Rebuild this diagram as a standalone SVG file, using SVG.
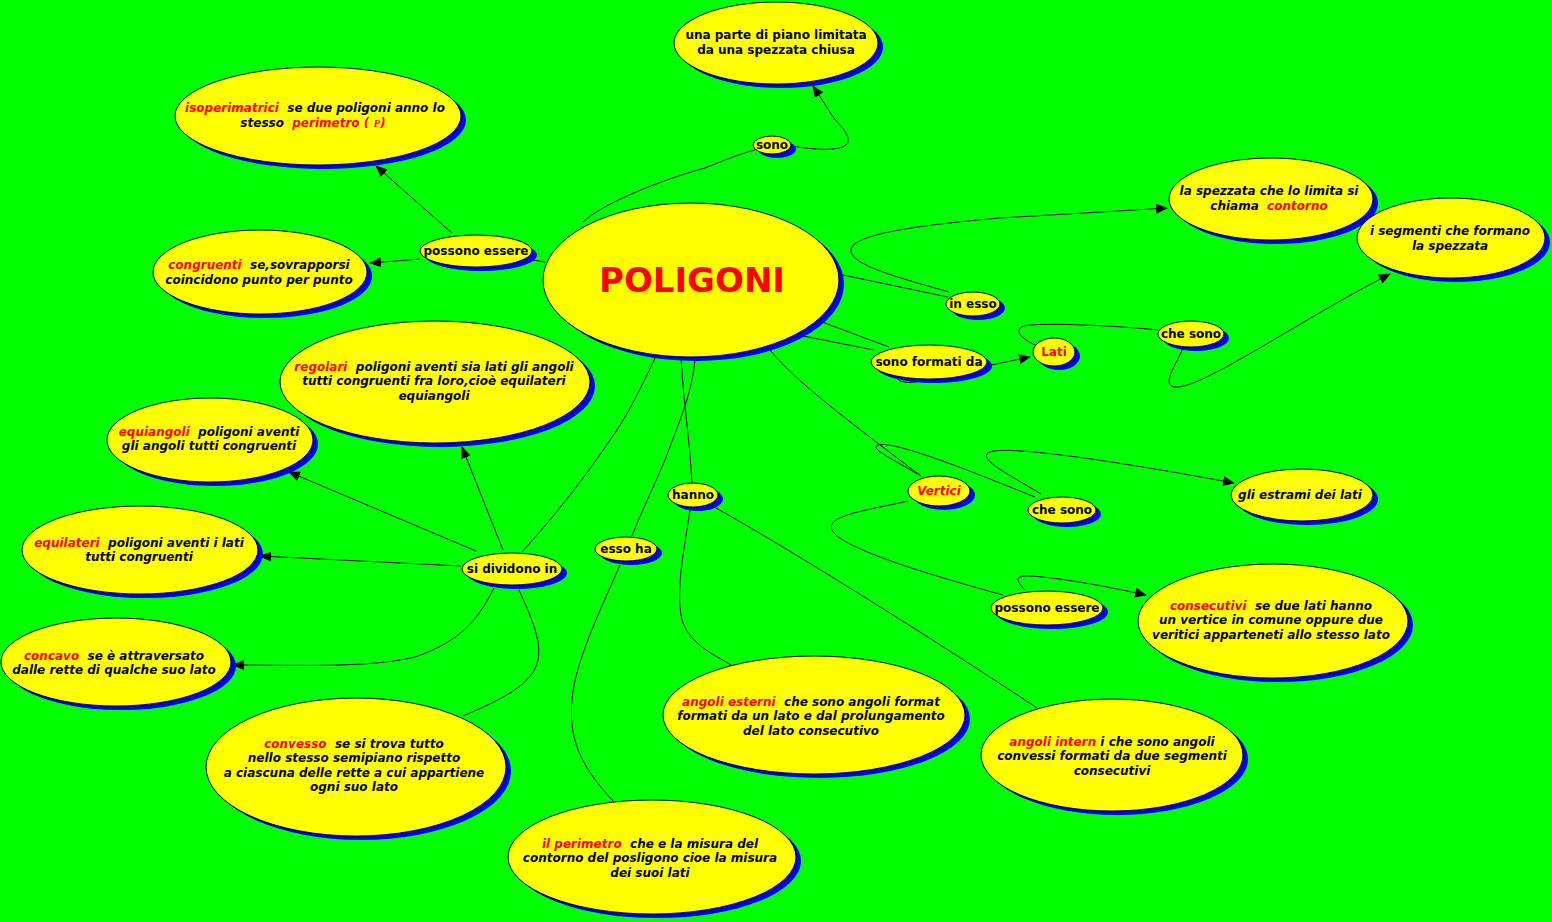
<svg xmlns="http://www.w3.org/2000/svg" width="1552" height="922" viewBox="0 0 1552 922" xml:space="preserve">
<style>
.bg{fill:#00ff00}
.sh{fill:#0000ee}
.nd{fill:#ffff00;stroke:#000;stroke-width:1}
text{font-family:"DejaVu Sans",Verdana,sans-serif;font-weight:bold;font-size:12px;fill:#000;text-anchor:middle;white-space:pre}
.it{font-style:italic}
.r{fill:#ff0000}
.c path{fill:none;stroke:#000;stroke-width:1}
.big{font-size:34px;fill:#ff0000}
</style>
<defs>
<marker id="ah" markerWidth="12" markerHeight="10" refX="11" refY="5" orient="auto" markerUnits="userSpaceOnUse">
<path d="M0,0 L12,5 L0,10 Z" fill="#000"/>
</marker>
</defs>
<rect class="bg" x="0" y="0" width="1552" height="922"/>

<g class="c" id="connectors">
<path d="M583,222 C600,205 660,180 705,168 C725,160 745,152 755,150"/>
<path d="M792,146 C815,150 845,152 848,142 C850,132 835,122 830,112 L813,86" marker-end="url(#ah)"/>
<path d="M545,262 L533,260"/>
<path d="M452,233 L376,166" marker-end="url(#ah)"/>
<path d="M420,259 L370,263" marker-end="url(#ah)"/>
<path d="M843,275 L948,297"/>
<path d="M949,292 C900,278 850,265 851,250 C852,234 920,225 1000,218 L1167,208" marker-end="url(#ah)"/>
<path d="M822,322 L889,347"/>
<path d="M803,336 L874,350"/>
<path d="M897,378 C900,384 915,383 925,380"/>
<path d="M986,366 L1030,357" marker-end="url(#ah)"/>
<path d="M1035,345 C1020,338 1010,327 1030,325 C1060,323 1120,326 1158,330"/>
<path d="M1183,348 C1178,362 1160,385 1175,387 C1200,390 1300,320 1390,274" marker-end="url(#ah)"/>
<path d="M770,350 C780,362 790,372 805,385 C840,415 880,445 921,476"/>
<path d="M917,474 C895,460 868,448 878,445 C895,440 980,475 1035,497"/>
<path d="M1041,494 C1010,475 975,458 990,452 C1010,445 1120,462 1234,483" marker-end="url(#ah)"/>
<path d="M908,501 C870,510 825,515 832,530 C840,548 930,575 1003,595"/>
<path d="M1025,590 C1015,580 1015,575 1030,576 C1060,578 1100,585 1146,595" marker-end="url(#ah)"/>
<path d="M655,358 C640,390 625,420 610,440 C590,470 560,510 522,552"/>
<path d="M681,358 C683,400 690,440 692,483"/>
<path d="M695,358 C693,390 680,420 665,460 C650,495 640,515 632,536"/>
<path d="M620,565 C605,600 585,640 575,680 C565,730 575,760 613,801"/>
<path d="M690,510 C685,545 675,590 682,620 C690,645 715,655 731,665"/>
<path d="M716,508 C800,555 950,650 1037,708"/>
<path d="M503,550 L462,447" marker-end="url(#ah)"/>
<path d="M476,551 L289,472" marker-end="url(#ah)"/>
<path d="M461,566 L260,556" marker-end="url(#ah)"/>
<path d="M494,588 C480,615 465,640 415,657 C370,668 300,665 233,665" marker-end="url(#ah)"/>
<path d="M519,590 C530,615 542,640 538,660 C533,685 500,700 463,716"/>
</g>

<g id="n-piano"><ellipse class="sh" cx="781" cy="47" rx="102" ry="41"/><ellipse class="nd" cx="776" cy="43" rx="102" ry="41"/>
<text x="776" y="39">una parte di piano limitata</text><text x="776" y="54">da una spezzata chiusa</text></g>

<g id="n-iso"><ellipse class="sh" cx="323" cy="120" rx="143" ry="49"/><ellipse class="nd" cx="318" cy="116" rx="143" ry="49"/>
<text class="it" x="315" y="112"><tspan class="r">isoperimatrici</tspan>  se due poligoni anno lo</text>
<text class="it" x="313" y="127">stesso  <tspan class="r">perimetro ( </tspan><tspan class="r" style="font-family:'Liberation Serif',serif;font-size:11px">P</tspan><tspan class="r">)</tspan></text></g>

<g id="n-sono"><ellipse class="sh" cx="777" cy="149" rx="19" ry="9"/><ellipse class="nd" cx="772" cy="145" rx="19" ry="9"/>
<text x="772" y="149">sono</text></g>

<g id="n-poligoni"><ellipse class="sh" cx="696" cy="284" rx="148" ry="77"/><ellipse class="nd" cx="691" cy="280" rx="148" ry="77"/>
<text class="big" x="692" y="292">POLIGONI</text></g>

<g id="n-possono1"><ellipse class="sh" cx="481" cy="255" rx="56" ry="16"/><ellipse class="nd" cx="476" cy="251" rx="56" ry="16"/>
<text x="476" y="255">possono essere</text></g>

<g id="n-congruenti"><ellipse class="sh" cx="265" cy="276" rx="107" ry="42"/><ellipse class="nd" cx="260" cy="272" rx="107" ry="42"/>
<text class="it" x="259" y="269"><tspan class="r">congruenti</tspan>  se,sovrapporsi</text>
<text class="it" x="259" y="284">coincidono punto per punto</text></g>

<g id="n-contorno"><ellipse class="sh" cx="1276" cy="203" rx="102" ry="41"/><ellipse class="nd" cx="1271" cy="199" rx="102" ry="41"/>
<text class="it" x="1269" y="195">la spezzata che lo limita si</text>
<text class="it" x="1269" y="210">chiama  <tspan class="r">contorno</tspan></text></g>

<g id="n-segmenti"><ellipse class="sh" cx="1456" cy="242" rx="94" ry="40"/><ellipse class="nd" cx="1451" cy="238" rx="94" ry="40"/>
<text class="it" x="1450" y="235">i segmenti che formano</text>
<text class="it" x="1450" y="250">la spezzata</text></g>

<g id="n-inesso"><ellipse class="sh" cx="978" cy="308" rx="27" ry="12"/><ellipse class="nd" cx="973" cy="304" rx="27" ry="12"/>
<text x="973" y="308">in esso</text></g>

<g id="n-formati"><ellipse class="sh" cx="934" cy="366" rx="58" ry="17"/><ellipse class="nd" cx="929" cy="362" rx="58" ry="17"/>
<text x="929" y="366">sono formati da</text></g>

<g id="n-lati"><ellipse class="sh" cx="1059" cy="356" rx="21" ry="14"/><ellipse class="nd" cx="1054" cy="352" rx="21" ry="14"/>
<text class="r" x="1054" y="356">Lati</text></g>

<g id="n-chesono1"><ellipse class="sh" cx="1196" cy="338" rx="33" ry="13"/><ellipse class="nd" cx="1191" cy="334" rx="33" ry="13"/>
<text x="1191" y="338">che sono</text></g>

<g id="n-regolari"><ellipse class="sh" cx="440" cy="386" rx="155" ry="61"/><ellipse class="nd" cx="435" cy="382" rx="155" ry="61"/>
<text class="it" x="434" y="371"><tspan class="r">regolari</tspan>  poligoni aventi sia lati gli angoli</text>
<text class="it" x="434" y="385">tutti congruenti fra loro,cioè equilateri</text>
<text class="it" x="434" y="400">equiangoli</text></g>

<g id="n-equiangoli"><ellipse class="sh" cx="215" cy="444" rx="103" ry="42"/><ellipse class="nd" cx="210" cy="440" rx="103" ry="42"/>
<text class="it" x="209" y="436"><tspan class="r">equiangoli</tspan>  poligoni aventi</text>
<text class="it" x="209" y="450">gli angoli tutti congruenti</text></g>

<g id="n-equilateri"><ellipse class="sh" cx="145" cy="554" rx="118" ry="44"/><ellipse class="nd" cx="140" cy="550" rx="118" ry="44"/>
<text class="it" x="139" y="547"><tspan class="r">equilateri</tspan>  poligoni aventi i lati</text>
<text class="it" x="139" y="561">tutti congruenti</text></g>

<g id="n-dividono"><ellipse class="sh" cx="517" cy="573" rx="50" ry="16"/><ellipse class="nd" cx="512" cy="569" rx="50" ry="16"/>
<text x="512" y="573">si dividono in</text></g>

<g id="n-concavo"><ellipse class="sh" cx="121" cy="666" rx="115" ry="44"/><ellipse class="nd" cx="116" cy="662" rx="115" ry="44"/>
<text class="it" x="114" y="660"><tspan class="r">concavo</tspan>  se è attraversato</text>
<text class="it" x="114" y="674">dalle rette di qualche suo lato</text></g>

<g id="n-convesso"><ellipse class="sh" cx="361" cy="771" rx="150" ry="69"/><ellipse class="nd" cx="356" cy="767" rx="150" ry="69"/>
<text class="it" x="354" y="748"><tspan class="r">convesso</tspan>  se si trova tutto</text>
<text class="it" x="354" y="762">nello stesso semipiano rispetto</text>
<text class="it" x="354" y="777">a ciascuna delle rette a cui appartiene</text>
<text class="it" x="354" y="791">ogni suo lato</text></g>

<g id="n-essoha"><ellipse class="sh" cx="631" cy="553" rx="31" ry="12"/><ellipse class="nd" cx="626" cy="549" rx="31" ry="12"/>
<text x="626" y="553">esso ha</text></g>

<g id="n-hanno"><ellipse class="sh" cx="698" cy="499" rx="25" ry="12"/><ellipse class="nd" cx="693" cy="495" rx="25" ry="12"/>
<text x="693" y="499">hanno</text></g>

<g id="n-vertici"><ellipse class="sh" cx="944" cy="495" rx="31" ry="15"/><ellipse class="nd" cx="939" cy="491" rx="31" ry="15"/>
<text class="it r" x="939" y="495">Vertici</text></g>

<g id="n-chesono2"><ellipse class="sh" cx="1067" cy="514" rx="34" ry="13"/><ellipse class="nd" cx="1062" cy="510" rx="34" ry="13"/>
<text x="1062" y="514">che sono</text></g>

<g id="n-estrami"><ellipse class="sh" cx="1307" cy="499" rx="71" ry="26"/><ellipse class="nd" cx="1302" cy="495" rx="71" ry="26"/>
<text class="it" x="1300" y="499">gli estrami dei lati</text></g>

<g id="n-possono2"><ellipse class="sh" cx="1052" cy="612" rx="56" ry="17"/><ellipse class="nd" cx="1047" cy="608" rx="56" ry="17"/>
<text x="1047" y="612">possono essere</text></g>

<g id="n-consecutivi"><ellipse class="sh" cx="1278" cy="625" rx="135" ry="57"/><ellipse class="nd" cx="1273" cy="621" rx="135" ry="57"/>
<text class="it" x="1271" y="610"><tspan class="r">consecutivi</tspan>  se due lati hanno</text>
<text class="it" x="1271" y="624">un vertice in comune oppure due</text>
<text class="it" x="1271" y="639">veritici apparteneti allo stesso lato</text></g>

<g id="n-esterni"><ellipse class="sh" cx="819" cy="719" rx="151" ry="59"/><ellipse class="nd" cx="814" cy="715" rx="151" ry="59"/>
<text class="it" x="811" y="706"><tspan class="r">angoli esterni</tspan>  che sono angoli format</text>
<text class="it" x="811" y="720">formati da un lato e dal prolungamento</text>
<text class="it" x="811" y="735">del lato consecutivo</text></g>

<g id="n-interni"><ellipse class="sh" cx="1117" cy="759" rx="131" ry="56"/><ellipse class="nd" cx="1112" cy="755" rx="131" ry="56"/>
<text class="it" x="1112" y="746"><tspan class="r">angoli intern</tspan> i che sono angoli</text>
<text class="it" x="1112" y="760">convessi formati da due segmenti</text>
<text class="it" x="1112" y="775">consecutivi</text></g>

<g id="n-perimetro"><ellipse class="sh" cx="657" cy="861" rx="144" ry="57"/><ellipse class="nd" cx="652" cy="857" rx="144" ry="57"/>
<text class="it" x="650" y="848"><tspan class="r">il perimetro</tspan>  che e la misura del</text>
<text class="it" x="650" y="862">contorno del posligono cioe la misura</text>
<text class="it" x="650" y="877">dei suoi lati</text></g>
</svg>
